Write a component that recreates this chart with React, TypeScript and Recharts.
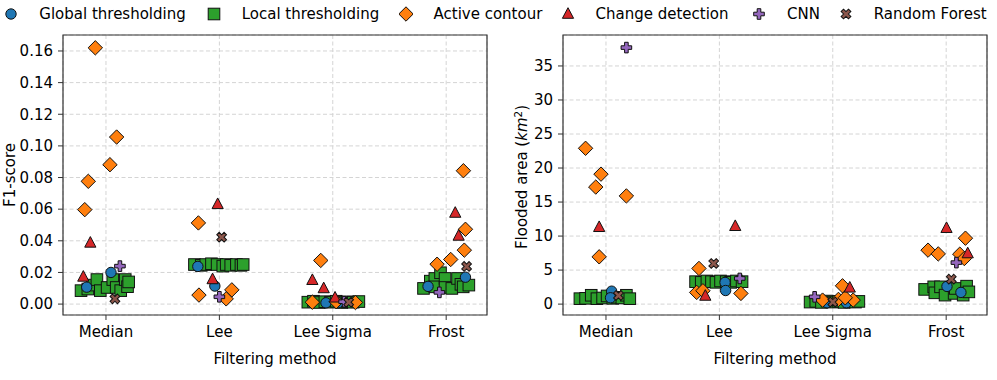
import { ScatterChart, Scatter, XAxis, YAxis, CartesianGrid, ReferenceArea } from 'recharts'

const CATEGORIES = ['Median', 'Lee', 'Lee Sigma', 'Frost']
const F1_TICKS = [0, 0.02, 0.04, 0.06, 0.08, 0.1, 0.12, 0.14, 0.16]
const AREA_TICKS = [0, 5, 10, 15, 20, 25, 30, 35]

type Pt = [number, number]

// F1-score — x = category index + jitter
const f1Global: Pt[] = [[-0.17, 0.0107], [0.044, 0.02], [0.81, 0.0238], [0.96, 0.0114], [1.94, 0.0008], [2.05, 0.0009], [2.84, 0.0112], [3.17, 0.017]]
const f1Local: Pt[] = [
  [-0.22, 0.0085], [-0.16, 0.0095], [-0.12, 0.012], [-0.08, 0.0155], [-0.05, 0.0085], [0.01, 0.0105], [0.06, 0.0155], [0.09, 0.0105], [0.13, 0.0085], [0.17, 0.0155], [0.19, 0.011], [0.2, 0.014],
  [0.78, 0.025], [0.84, 0.0245], [0.88, 0.025], [0.93, 0.0255], [0.98, 0.025], [1.03, 0.024], [1.06, 0.025], [1.1, 0.0245], [1.15, 0.025], [1.19, 0.0245], [1.21, 0.025],
  [1.78, 0.0012], [1.83, 0.0018], [1.88, 0.001], [1.93, 0.0015], [1.98, 0.0012], [2.03, 0.0018], [2.08, 0.001], [2.13, 0.0014], [2.18, 0.0012], [2.23, 0.0016],
  [2.8, 0.0099], [2.86, 0.0145], [2.9, 0.0162], [2.9, 0.0109], [2.95, 0.0198], [2.99, 0.0162], [2.99, 0.0105], [3.05, 0.0099], [3.1, 0.0162], [3.13, 0.0125], [3.15, 0.0109], [3.2, 0.012],
]
const f1Contour: Pt[] = [
  [-0.094, 0.162], [0.094, 0.1056], [0.035, 0.0881], [-0.156, 0.0776], [-0.187, 0.0597],
  [0.815, 0.0513], [1.11, 0.009], [0.82, 0.0057], [1.06, 0.0033],
  [1.894, 0.0276], [1.82, 0.0012], [2.03, 0.0015], [2.2, 0.001],
  [3.152, 0.0843], [3.17, 0.0473], [3.16, 0.0341], [3.04, 0.0282], [2.92, 0.0252],
]
const f1Change: Pt[] = [[-0.138, 0.0387], [-0.2, 0.0172], [0.985, 0.0631], [0.94, 0.0156], [1.82, 0.0151], [1.92, 0.0099], [2.02, 0.004], [3.08, 0.0576], [3.11, 0.0431]]
const f1Cnn: Pt[] = [[0.123, 0.024], [1.0, 0.0046], [2.1, 0.0015], [2.94, 0.0074]]
const f1Forest: Pt[] = [[0.079, 0.0033], [1.02, 0.0423], [2.14, 0.0012], [3.18, 0.0238]]

// Flooded area (km²)
const areaGlobal: Pt[] = [[0.05, 1.9], [0.04, 0.93], [1.05, 3.19], [1.055, 2.0], [1.95, 0.2], [2.12, 0.2], [3.007, 2.6], [3.13, 1.72]]
const areaLocal: Pt[] = [
  [-0.23, 0.8], [-0.18, 0.85], [-0.13, 1.3], [-0.08, 0.8], [-0.03, 0.9], [0.01, 1.2], [0.06, 0.85], [0.1, 1.0], [0.14, 0.9], [0.18, 1.3], [0.21, 0.8],
  [0.79, 3.3], [0.84, 3.2], [0.89, 3.4], [0.93, 3.3], [0.97, 3.2], [1.01, 3.4], [1.06, 3.3], [1.1, 3.2], [1.15, 3.4], [1.2, 3.3],
  [1.8, 0.3], [1.85, 0.4], [1.9, 0.25], [1.95, 0.45], [2.0, 0.3], [2.05, 0.4], [2.1, 0.25], [2.15, 0.35], [2.2, 0.3], [2.23, 0.4],
  [2.81, 2.16], [2.89, 2.54], [2.9, 1.66], [2.95, 2.54], [2.99, 1.32], [3.07, 1.57], [3.08, 2.3], [3.15, 1.32], [3.18, 2.64], [3.2, 1.8],
]
const areaContour: Pt[] = [
  [-0.18, 22.9], [-0.044, 19.1], [-0.09, 17.2], [0.18, 15.9], [-0.06, 6.95],
  [0.82, 5.24], [0.8, 1.72], [0.855, 1.96], [1.19, 1.57],
  [2.086, 2.69], [1.91, 0.59], [2.05, 0.69], [2.18, 0.59], [2.11, 0.93],
  [3.17, 9.69], [2.84, 7.93], [2.93, 7.38], [3.12, 7.34], [3.16, 6.7],
]
const areaChange: Pt[] = [[-0.06, 11.3], [1.14, 11.45], [0.876, 1.2], [2.15, 2.4], [3.003, 11.16], [3.19, 7.44]]
const areaCnn: Pt[] = [[0.18, 37.7], [1.18, 3.77], [1.84, 1.07], [3.09, 6.1]]
const areaForest: Pt[] = [[0.11, 1.27], [0.95, 5.97], [2.0, 0.3], [3.045, 3.67]]

const FONT = '"DejaVu Sans", sans-serif'
const EDGE = '#111'
// legend marker centres (px), text starts 28px to the right
const LEGEND_X = [11.3, 213.7, 405.5, 567.5, 759, 845.7]

type Kind = 'circle' | 'square' | 'diamond' | 'triangle' | 'plus' | 'cross'

function crossPoints(cx: number, cy: number, a: number, w: number) {
  return `${cx - w},${cy - a} ${cx + w},${cy - a} ${cx + w},${cy - w} ${cx + a},${cy - w} ${cx + a},${cy + w} ${cx + w},${cy + w} ${cx + w},${cy + a} ${cx - w},${cy + a} ${cx - w},${cy + w} ${cx - a},${cy + w} ${cx - a},${cy - w} ${cx - w},${cy - w}`
}

function Marker({ kind, cx, cy, color }: { kind: Kind; cx: number; cy: number; color: string }) {
  const p = { fill: color, stroke: EDGE, strokeWidth: 1 }
  if (kind === 'circle') return <circle cx={cx} cy={cy} r={5.2} {...p} />
  if (kind === 'square') return <rect x={cx - 5.8} y={cy - 5.8} width={11.6} height={11.6} {...p} />
  if (kind === 'diamond')
    return <polygon points={`${cx},${cy - 7.2} ${cx + 7.2},${cy} ${cx},${cy + 7.2} ${cx - 7.2},${cy}`} {...p} />
  if (kind === 'triangle')
    return <polygon points={`${cx},${cy - 6.3} ${cx + 5.6},${cy + 4.3} ${cx - 5.6},${cy + 4.3}`} {...p} />
  if (kind === 'plus') return <polygon points={crossPoints(cx, cy, 5.3, 1.8)} {...p} />
  return <polygon transform={`rotate(45 ${cx} ${cy})`} points={crossPoints(cx, cy, 5.2, 1.7)} {...p} />
}

const SERIES: { name: string; kind: Kind; color: string }[] = [
  { name: 'Global thresholding', kind: 'circle', color: '#1f77b4' },
  { name: 'Local thresholding', kind: 'square', color: '#2ca02c' },
  { name: 'Active contour', kind: 'diamond', color: '#ff7f0e' },
  { name: 'Change detection', kind: 'triangle', color: '#d62728' },
  { name: 'CNN', kind: 'plus', color: '#9467bd' },
  { name: 'Random Forest', kind: 'cross', color: '#8c564b' },
]
const byName = (n: string) => SERIES.find((s) => s.name === n)!

const toObj = (pts: Pt[]) => pts.map(([x, y]) => ({ x, y }))
const X_DOMAIN: [number, number] = [-0.379, 3.36]

function Panel({ groups, yDomain, yTicks, fmt }: { groups: [string, Pt[]][]; yDomain: [number, number]; yTicks: number[]; fmt: (v: number) => string }) {
  const tick = { fontFamily: FONT, fontSize: 15, fill: '#000' }
  return (
    <ScatterChart width={497} height={380} margin={{ top: 35, right: 10, bottom: 35, left: 0 }}>
      <CartesianGrid stroke="#d4d4d4" strokeDasharray="4 2.5" />
      <XAxis
        type="number"
        dataKey="x"
        domain={X_DOMAIN}
        ticks={[0, 1, 2, 3]}
        allowDataOverflow
        height={30}
        axisLine={false}
        tickLine={{ stroke: '#333' }}
        tickSize={5}
        tickMargin={6}
        tick={tick}
        tickFormatter={(v: number) => CATEGORIES[v]}
      />
      <YAxis
        type="number"
        dataKey="y"
        domain={yDomain}
        ticks={yTicks}
        allowDataOverflow
        width={63}
        axisLine={false}
        tickLine={{ stroke: '#333' }}
        tickSize={5}
        tickMargin={5}
        tick={tick}
        tickFormatter={fmt}
      />
      <ReferenceArea x1={X_DOMAIN[0]} x2={X_DOMAIN[1]} y1={yDomain[0]} y2={yDomain[1]} fill="none" stroke="#333" strokeWidth={1.2} />
      {groups.map(([name, pts]) => {
        const s = byName(name)
        return (
          <Scatter
            key={name}
            name={name}
            data={toObj(pts)}
            isAnimationActive={false}
            shape={(props: any) => <Marker kind={s.kind} cx={props.cx} cy={props.cy} color={s.color} />}
          />
        )
      })}
    </ScatterChart>
  )
}

function LegendRow() {
  return (
    <>
      {SERIES.map((s, i) => (
        <div
          key={s.name}
          style={{ position: 'absolute', left: LEGEND_X[i] - 7, top: 5, height: 18, display: 'flex', alignItems: 'center', gap: 21, fontFamily: FONT, fontSize: 15, color: '#000', whiteSpace: 'nowrap' }}
        >
          <svg width={14} height={18}>
            <Marker kind={s.kind} cx={7} cy={9} color={s.color} />
          </svg>
          <span>{s.name}</span>
        </div>
      ))}
    </>
  )
}

export default function App() {
  const order = ['Local thresholding', 'Global thresholding', 'Active contour', 'Change detection', 'CNN', 'Random Forest']
  const f1: Record<string, Pt[]> = {
    'Global thresholding': f1Global, 'Local thresholding': f1Local, 'Active contour': f1Contour,
    'Change detection': f1Change, CNN: f1Cnn, 'Random Forest': f1Forest,
  }
  const area: Record<string, Pt[]> = {
    'Global thresholding': areaGlobal, 'Local thresholding': areaLocal, 'Active contour': areaContour,
    'Change detection': areaChange, CNN: areaCnn, 'Random Forest': areaForest,
  }
  const label = { position: 'absolute' as const, fontFamily: FONT, fontSize: 15, color: '#000', whiteSpace: 'nowrap' as const, lineHeight: 1 }
  return (
    <div style={{ position: 'absolute', left: 0, top: 0, width: 997, height: 380, background: '#fff', overflow: 'hidden' }}>
      <LegendRow />
      <div style={{ position: 'absolute', left: 0, top: 0 }}>
        <Panel groups={order.map((n) => [n, f1[n]])} yDomain={[-0.0069, 0.1701]} yTicks={F1_TICKS} fmt={(v) => v.toFixed(2)} />
      </div>
      <div style={{ position: 'absolute', left: 500, top: 0 }}>
        <Panel groups={order.map((n) => [n, area[n]])} yDomain={[-1.6, 39.55]} yTicks={AREA_TICKS} fmt={(v) => String(v)} />
      </div>
      <div style={{ ...label, left: 10, top: 175, transform: 'translate(-50%, -50%) rotate(-90deg)' }}>F1-score</div>
      <div style={{ ...label, left: 521.5, top: 176.5, transform: 'translate(-50%, -50%) rotate(-90deg)' }}>
        Flooded area (<i>km</i><sup style={{ fontSize: 10.5, verticalAlign: '0.45em', lineHeight: 0 }}>2</sup>)
      </div>
      <div style={{ ...label, left: 275, top: 359, transform: 'translate(-50%, -50%)' }}>Filtering method</div>
      <div style={{ ...label, left: 775, top: 359, transform: 'translate(-50%, -50%)' }}>Filtering method</div>
    </div>
  )
}
